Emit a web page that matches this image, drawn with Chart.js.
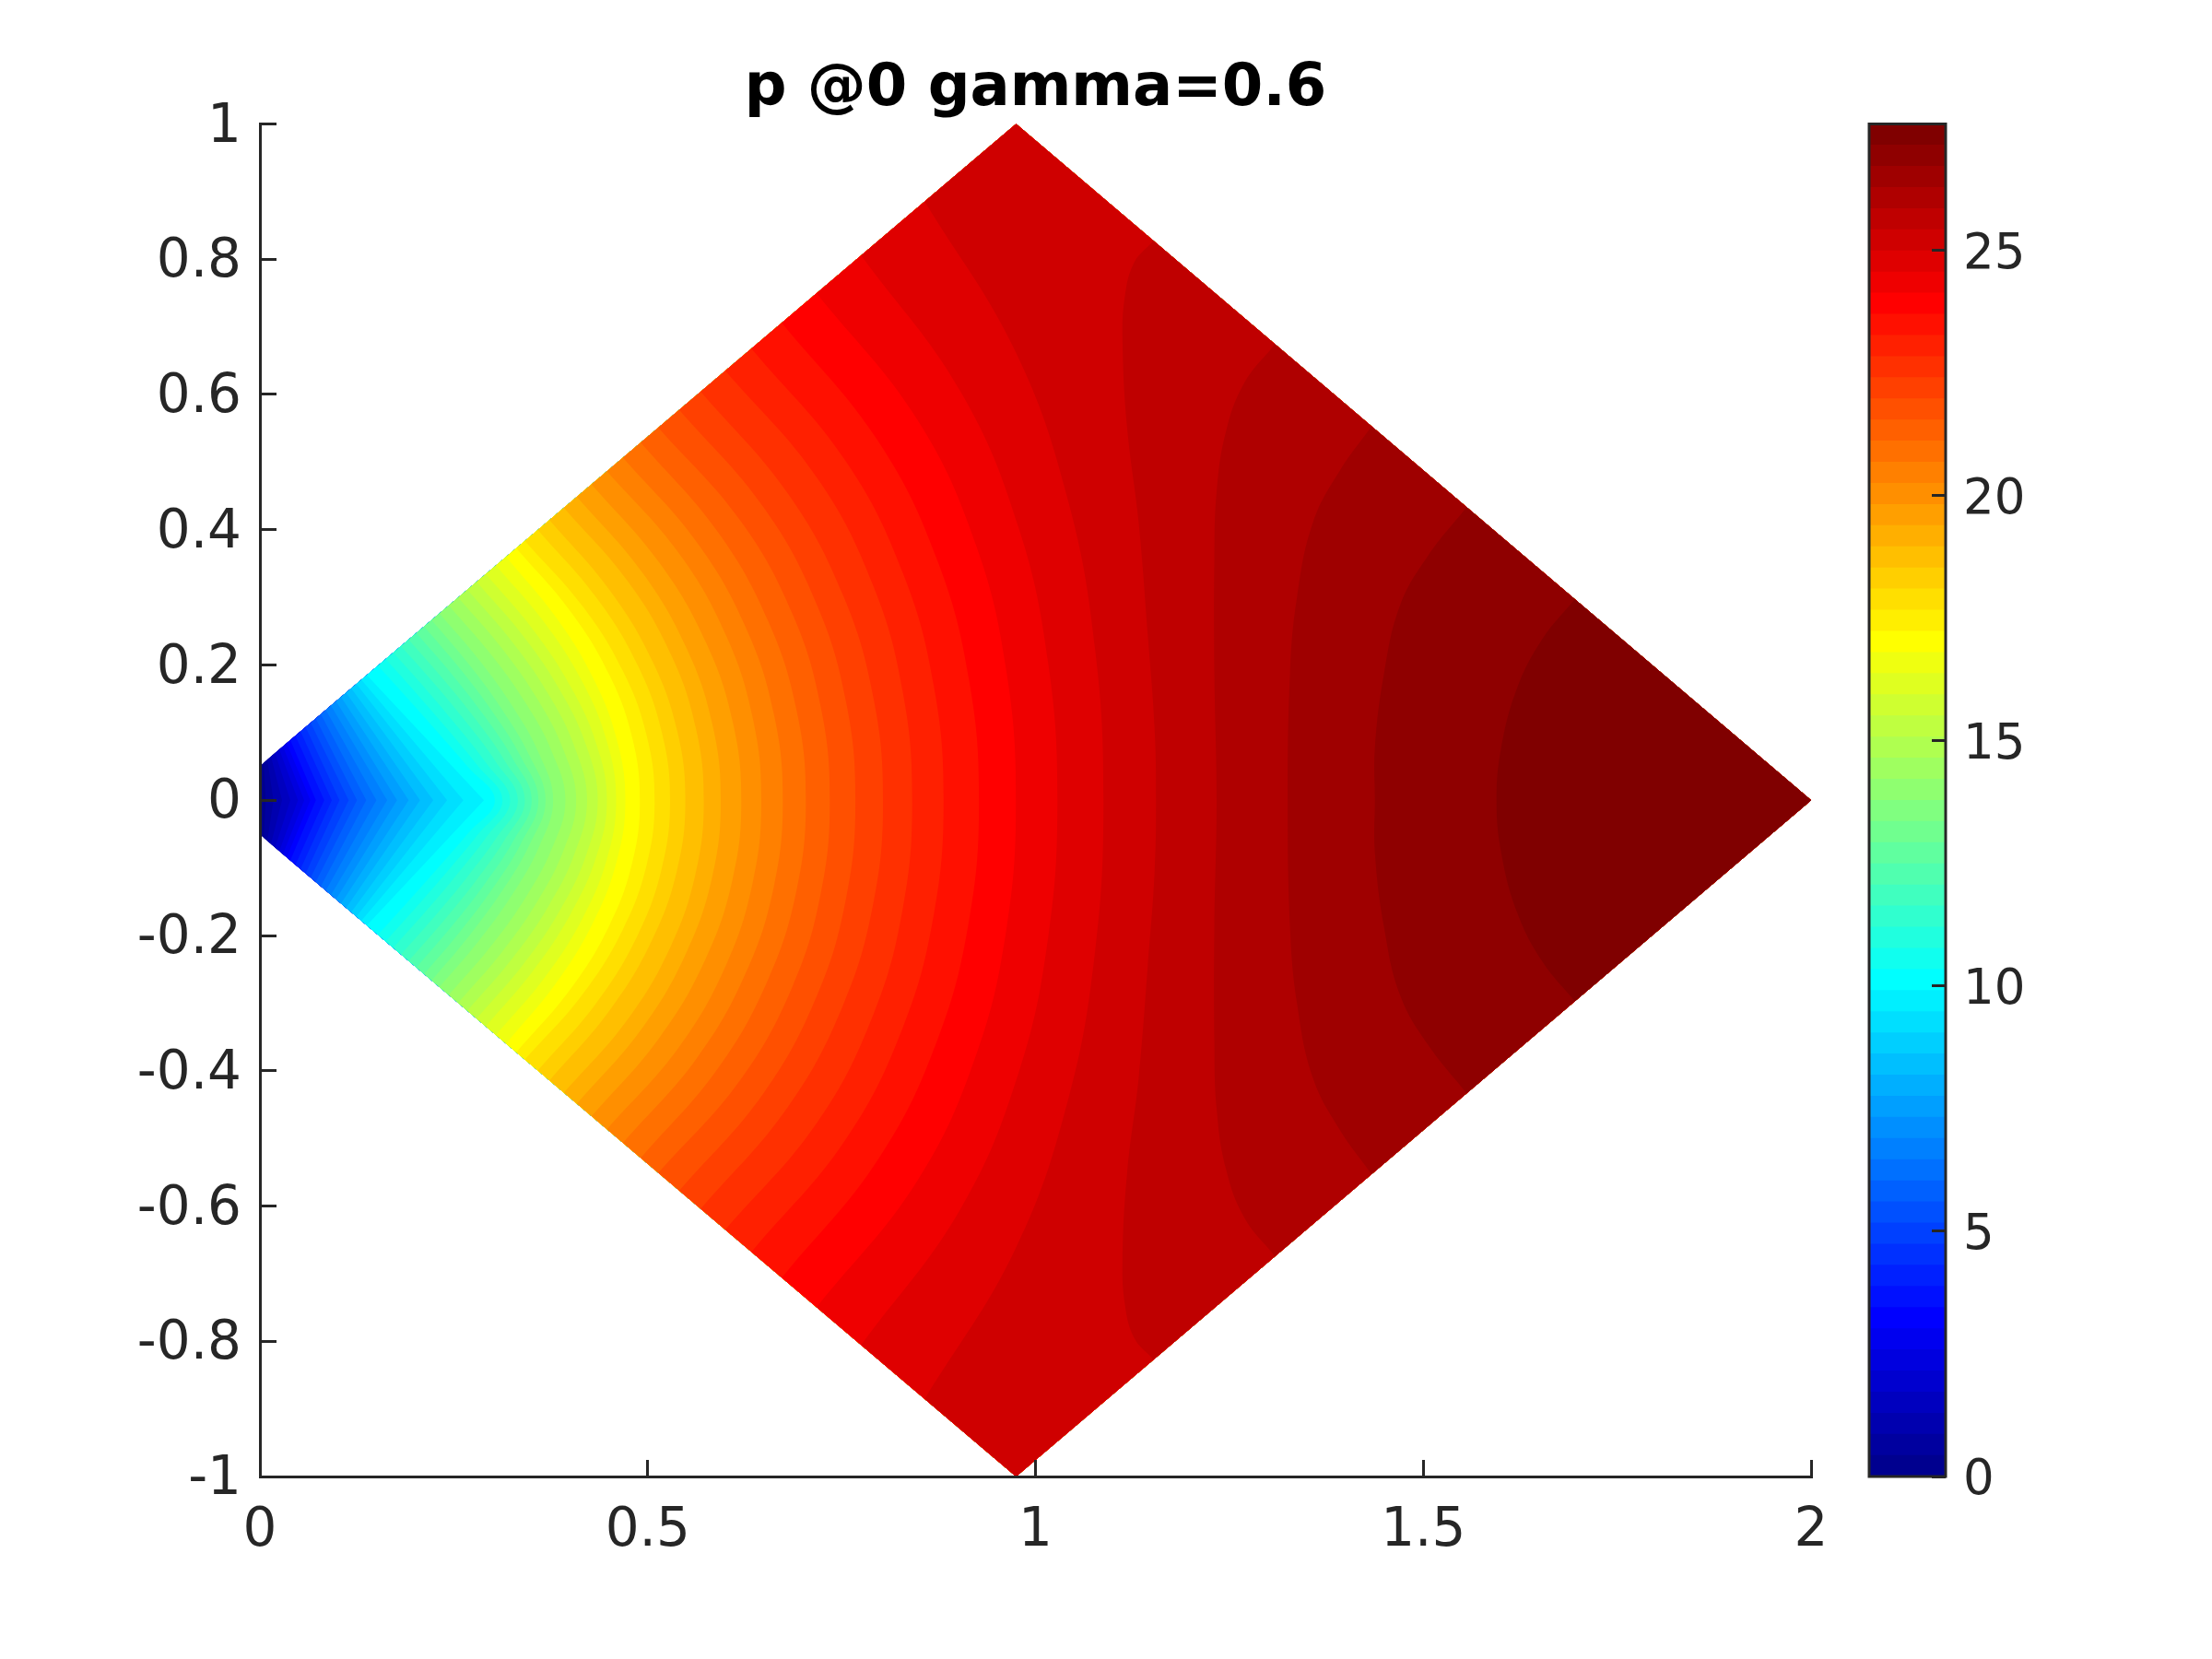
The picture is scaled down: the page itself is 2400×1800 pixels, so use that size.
<!DOCTYPE html>
<html>
<head>
<meta charset="utf-8">
<title>p @0 gamma=0.6</title>
<script src="https://cdn.jsdelivr.net/npm/chart.js@4"></script>
<style>
html, body { margin: 0; padding: 0; background: #fff; }
#wrap { position: relative; width: 2400px; height: 1800px; }
#plot { position: absolute; left: 0; top: 0; }
#bar { position: absolute; left: 2000px; top: 0; }
</style>
</head>
<body>
<div id="wrap">
<canvas id="plot" width="2400" height="1800"></canvas>
<canvas id="bar" width="400" height="1800"></canvas>
</div>
<script>
const titleText = 'p @0 gamma=0.6';
const xTicks = [0, 0.5, 1, 1.5, 2];
const yTicks = [-1, -0.8, -0.6, -0.4, -0.2, 0, 0.2, 0.4, 0.6, 0.8, 1];
const barTicks = [0, 5, 10, 15, 20, 25];
const pMax = 27.58;
const bandCount = 64;

// outline of the domain
const domainX = [0, 0.975, 2, 0.975, 0];
const domainY = [0.0509, 1, 0, -1, -0.0509];

// contour levels 1-23, nearly straight chevrons at the tip (upper half, mirrored below)
const tipEdgeX = [.0048, .0095, .0143, .0196, .025, .0297, .0345, .0392, .0458, .0523, .0589, .0654,
  .0719, .0785, .085, .0916, .0981, .1046, .1112, .1177, .1243, .1308, .1379];
const tipCrossX = [.0075, .0175, .0285, .0392, .0491, .0571, .065, .0722, .0829, .0927, .1026, .1145,
  .1252, .1371, .1502, .1641, .1768, .1918, .2065, .2235, .2414, .2624, .2889];

// contour levels 24-58, arcs from the y=0 crossing out to the upper left edge
const arcEdgeX = [.1522, .1621, .1719, .1819, .1918, .2017, .2117, .2215, .2315, .2436, .2556, .2675,
  .2794, .2913, .3044, .3175, .3306, .3416, .3583, .3734, .392, .4087, .4277, .4474, .4681, .4911,
  .5137, .5407, .5684, .6001, .6338, .673, .7178, .7753, .8572];
const arcX75 = [.1915, .2029, .2144, .2259, .237, .2481, .2592, .2702, .2828, .2977, .3118, .3258,
  .3399, .3531, .3684, .3822, .4003, .4156, .4337, .4509, .474, .4931, .5155, .5404, .5643, .5905,
  .6196, .6495, .681, .7186, .7557, .798, .8479, .9034, .9739];
const arcX50 = [.2301, .2424, .2546, .267, .2787, .29, .3013, .3127, .3262, .3425, .3576, .3726,
  .3875, .401, .4164, .43, .4501, .4677, .4869, .5054, .5296, .5502, .575, .6012, .6273, .6555,
  .6866, .7183, .7522, .7907, .8297, .874, .924, .9783, 1.0421];
const arcX25 = [.2678, .28, .292, .3041, .3151, .3259, .3364, .3472, .3598, .3763, .3912, .4061,
  .4208, .4337, .4474, .4601, .4799, .4986, .5183, .5378, .5618, .5834, .6094, .6354, .6628, .6921,
  .7232, .7559, .7911, .8291, .8692, .9145, .9629, 1.0165, 1.077];
const arcCrossX = [.3029, .3127, .3226, .3326, .3416, .3504, .3591, .3683, .3781, .3939, .4078, .4218,
  .4356, .4474, .4593, .4712, .4899, .5089, .5288, .5485, .5723, .5942, .6207, .6465, .6742, .7039,
  .7348, .7678, .8034, .841, .8815, .9271, .9747, 1.0282, 1.0876];
const arcFractions = [1, 0.75, 0.5, 0.25, 0];

// contour levels 59-63, they end on the upper right edge
const rightCurveX = [
  [1.1508, 1.1271, 1.1152, 1.1122, 1.1182, 1.133, 1.1448, 1.1536, 1.1554],
  [1.3075, 1.2691, 1.2454, 1.2335, 1.2306, 1.2306, 1.2335],
  [1.4335, 1.3932, 1.3578, 1.3371, 1.3282, 1.3252],
  [1.5559, 1.5057, 1.4702, 1.4495, 1.4376, 1.4376],
  [1.695, 1.6535, 1.6211, 1.6004, 1.5944]
];
const rightCurveY = [
  [.8256, .795, .7449, .6781, .5501, .411, .244, .105, 0],
  [.6725, .6169, .5445, .4555, .3554, .1884, 0],
  [.553, .4889, .411, .2997, .1884, 0],
  [.4333, .3609, .2886, .1884, .0772, 0],
  [.2969, .2386, .1663, .0772, 0]
];

const axisColor = '#262626';
const fontFamily = '"DejaVu Sans"';

// matlab jet(64), i is 1-based
function jet(i) {
  const u = k => (k < 1 || k > 47) ? 0 : (k <= 16 ? k / 16 : (k <= 31 ? 1 : (48 - k) / 16));
  const r = i >= 25 ? u(i - 24) : 0;
  const g = u(i - 8);
  const b = i <= 39 ? u(i + 8) : 0;
  return 'rgb(' + Math.round(r * 255) + ',' + Math.round(g * 255) + ',' + Math.round(b * 255) + ')';
}

// y of a point on the upper left edge of the domain
function edgeY(x) {
  return domainY[0] + (domainY[1] - domainY[0]) * x / domainX[1];
}

// upper half + mirrored lower half
function mirrored(xs, ys) {
  const pts = xs.map((x, i) => ({ x: x, y: ys[i] }));
  for (let i = xs.length - 1; i >= 0; i--) {
    if (ys[i] !== 0) pts.push({ x: xs[i], y: -ys[i] });
  }
  return pts;
}

const datasets = [];
datasets.push({
  label: 'domain',
  data: domainX.map((x, i) => ({ x: x, y: domainY[i] })),
  tension: 0,
  bandColor: jet(1)
});
tipEdgeX.forEach((ex, i) => {
  datasets.push({
    label: 'level ' + (i + 1),
    data: mirrored([ex, tipCrossX[i]], [edgeY(ex), 0]),
    tension: 0,
    bandColor: jet(i + 2)
  });
});
arcEdgeX.forEach((ex, i) => {
  const top = edgeY(ex);
  const xs = [ex, arcX75[i], arcX50[i], arcX25[i], arcCrossX[i]];
  datasets.push({
    label: 'level ' + (i + 24),
    data: mirrored(xs, arcFractions.map(f => f * top)),
    tension: 0.4,
    bandColor: jet(i + 25)
  });
});
rightCurveX.forEach((xs, i) => {
  datasets.push({
    label: 'level ' + (i + 59),
    data: mirrored(xs, rightCurveY[i]),
    tension: 0.4,
    bandColor: jet(i + 60)
  });
});

// fills the area right of each contour, lowest first, inside the domain outline
const contourFill = {
  id: 'contourFill',
  afterDatasetsDraw(chart) {
    const ctx = chart.ctx;
    const sx = chart.scales.x;
    const sy = chart.scales.y;
    const base = chart.getDatasetMeta(0);
    ctx.save();
    ctx.beginPath();
    base.dataset.path(ctx);
    ctx.closePath();
    ctx.clip();
    ctx.fillStyle = datasets[0].bandColor;
    ctx.fillRect(chart.chartArea.left, chart.chartArea.top, chart.chartArea.width, chart.chartArea.height);
    for (let i = 1; i < datasets.length; i++) {
      const line = chart.getDatasetMeta(i).dataset;
      const first = datasets[i].data[0];
      line.updateControlPoints(chart.chartArea);
      ctx.beginPath();
      line.path(ctx);
      ctx.lineTo(sx.getPixelForValue(first.x), sy.getPixelForValue(-1.2));
      ctx.lineTo(sx.getPixelForValue(2.1), sy.getPixelForValue(-1.2));
      ctx.lineTo(sx.getPixelForValue(2.1), sy.getPixelForValue(1.2));
      ctx.lineTo(sx.getPixelForValue(first.x), sy.getPixelForValue(1.2));
      ctx.closePath();
      ctx.fillStyle = datasets[i].bandColor;
      ctx.fill();
    }
    ctx.restore();
  }
};

new Chart(document.getElementById('plot'), {
  type: 'scatter',
  data: { datasets: datasets },
  plugins: [contourFill],
  options: {
    responsive: false,
    animation: false,
    events: [],
    layout: { padding: { left: 0, right: 435, top: 0, bottom: 0 } },
    datasets: { scatter: { showLine: true, borderWidth: 0, pointRadius: 0 } },
    plugins: {
      legend: { display: false },
      tooltip: { enabled: false },
      title: {
        display: true,
        text: titleText,
        color: '#000',
        fullSize: false,
        font: { family: fontFamily, size: 64, weight: 'bold', lineHeight: 1 },
        padding: { top: 65, bottom: 5.5 }
      }
    },
    scales: {
      x: {
        type: 'linear',
        min: 0,
        max: 2,
        afterBuildTicks: s => { s.ticks = xTicks.map(v => ({ value: v })); },
        afterFit: s => { s.height = 198; },
        ticks: {
          color: axisColor,
          font: { family: fontFamily, size: 58 },
          padding: 43,
          maxRotation: 0,
          autoSkip: false,
          callback: v => String(v)
        },
        grid: { drawOnChartArea: false, tickLength: -18, tickColor: axisColor, tickWidth: 3, z: 1 },
        border: { color: axisColor, width: 3, z: 1 }
      },
      y: {
        type: 'linear',
        min: -1,
        max: 1,
        afterBuildTicks: s => { s.ticks = yTicks.map(v => ({ value: v })); },
        afterFit: s => { s.width = 282; },
        ticks: {
          color: axisColor,
          font: { family: fontFamily, size: 58 },
          padding: 38,
          labelOffset: 4,
          autoSkip: false,
          callback: v => String(v)
        },
        grid: { drawOnChartArea: false, tickLength: -18, tickColor: axisColor, tickWidth: 3, z: 1 },
        border: { color: axisColor, width: 3, z: 1 }
      }
    }
  }
});

// colorbar, chart.js paints the first dataset last so every band runs from 0 up to its own top
const barDatasets = [];
for (let i = 0; i < bandCount; i++) {
  barDatasets.push({
    label: 'band ' + (i + 1),
    data: [[0, (i + 1) * pMax / bandCount]],
    backgroundColor: jet(i + 1)
  });
}

const barFrame = {
  id: 'barFrame',
  afterDraw(chart) {
    const a = chart.chartArea;
    const ctx = chart.ctx;
    ctx.save();
    ctx.strokeStyle = axisColor;
    ctx.lineWidth = 3;
    ctx.strokeRect(a.left, a.top, a.width, a.height);
    ctx.restore();
  }
};

new Chart(document.getElementById('bar'), {
  type: 'bar',
  data: { labels: ['p'], datasets: barDatasets },
  plugins: [barFrame],
  options: {
    responsive: false,
    animation: false,
    events: [],
    layout: { padding: { left: 28, right: 0, top: 134.5, bottom: 198 } },
    datasets: { bar: { grouped: false, barPercentage: 1, categoryPercentage: 1, borderWidth: 0 } },
    plugins: { legend: { display: false }, tooltip: { enabled: false }, title: { display: false } },
    scales: {
      x: { display: false },
      y: {
        type: 'linear',
        position: 'right',
        min: 0,
        max: pMax,
        afterBuildTicks: s => { s.ticks = barTicks.map(v => ({ value: v })); },
        afterFit: s => { s.width = 289; },
        ticks: {
          color: axisColor,
          font: { family: fontFamily, size: 53 },
          padding: 34,
          labelOffset: 5,
          autoSkip: false,
          callback: v => String(v)
        },
        grid: { drawOnChartArea: false, tickLength: -15, tickColor: axisColor, tickWidth: 3, z: 1 },
        border: { display: false }
      }
    }
  }
});
</script>
</body>
</html>
